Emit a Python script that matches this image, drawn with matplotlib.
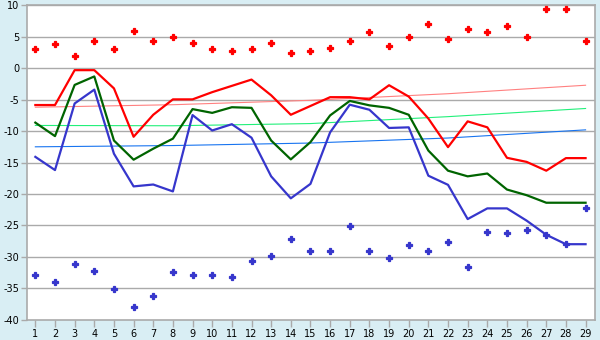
import matplotlib
matplotlib.use("Agg")
import matplotlib.pyplot as plt

plt.rcParams["axes.unicode_minus"] = False

days = list(range(1, 30))

red_line = [-5.85, -5.85, -0.3, -0.3, -3.2, -10.9, -7.4, -4.95, -4.95, -3.8,
            -2.8, -1.8, -4.3, -7.4, -6.0, -4.6, -4.6, -4.95, -2.7, -4.5,
            -8.0, -12.55, -8.45, -9.4, -14.25, -14.9, -16.3, -14.3, -14.3]
green_line = [-8.65, -10.8, -2.65, -1.3, -11.5, -14.55, -12.8, -11.2, -6.5, -7.1,
              -6.2, -6.3, -11.5, -14.5, -11.75, -7.5, -5.2, -5.9, -6.3, -7.4,
              -13.1, -16.3, -17.2, -16.75, -19.3, -20.2, -21.4, -21.4, -21.4]
blue_line = [-14.1, -16.2, -5.6, -3.4, -13.6, -18.8, -18.5, -19.6, -7.45, -9.9,
             -8.9, -11.05, -17.2, -20.7, -18.4, -10.2, -5.8, -6.6, -9.5, -9.4,
             -17.1, -18.55, -24.0, -22.3, -22.3, -24.25, -26.5, -28.0, -28.0]
red_pts = [3.0, 3.9, 1.9, 4.3, 3.1, 6.0, 4.4, 4.9, 4.1, 3.1,
           2.8, 3.0, 4.1, 2.5, 2.8, 3.3, 4.3, 5.7, 3.5, 4.9,
           7.0, 4.7, 6.3, 5.85, 6.8, 5.05, 9.5, 9.5, 4.3]
blue_pts = [-32.9, -34.0, -31.1, -32.3, -35.1, -38.0, -36.25, -32.4, -32.9, -32.9,
            -33.2, -30.7, -29.9, -27.2, -29.1, -29.1, -25.1, -29.1, -30.2, -28.1,
            -29.1, -27.6, -31.6, -26.0, -26.2, -25.7, -26.5, -28.0, -22.2]

# trend lines, read at a few days
trend_x = [1, 8, 15, 22, 29]
red_trend = [-6.2, -5.8, -5.1, -4.05, -2.7]
green_trend = [-9.1, -9.15, -8.8, -7.7, -6.4]
blue_trend = [-12.5, -12.3, -11.9, -11.1, -9.8]

fig = plt.figure(figsize=(6, 3.4), dpi=100, facecolor="#D9EEF4")
ax = fig.add_axes([0.0445, 0.060, 0.9475, 0.924])
ax.set_facecolor("white")

grid_c = "#AAAAAA"
for v in range(-35, 15, 5):
    ax.axhline(v, color=grid_c, lw=1.0, zorder=1)

ax.plot(trend_x, red_trend, color="#FF8080", lw=0.8, zorder=2)
ax.plot(trend_x, green_trend, color="#22F07A", lw=0.8, zorder=2)
ax.plot(trend_x, blue_trend, color="#1874F0", lw=0.8, zorder=2)

ax.plot(days, red_line, color="#FF0000", lw=1.6, zorder=4)
ax.plot(days, green_line, color="#006400", lw=1.6, zorder=3)
ax.plot(days, blue_line, color="#3636CC", lw=1.6, zorder=3)

ax.plot(days, red_pts, ls="none", marker="P", ms=3.8, color="#FF0000",
        mec="#FF0000", mew=0.9, zorder=5)
ax.plot(days, blue_pts, ls="none", marker="P", ms=3.8, color="#3636CC",
        mec="#3636CC", mew=0.9, zorder=5)

ax.set_xlim(0.56, 29.49)
ax.set_ylim(-40, 10)
ax.set_xticks(days)
ax.set_yticks(range(-40, 15, 5))
ax.tick_params(axis="both", labelsize=7, length=4, width=1,
               direction="out", pad=1.5)
ax.tick_params(axis="x", colors=grid_c, labelcolor="black", length=5)
ax.tick_params(axis="y", colors=grid_c, labelcolor="black")
for s in ["left", "bottom", "right", "top"]:
    ax.spines[s].set_color(grid_c)
    ax.spines[s].set_linewidth(1.2)

fig.savefig("out.png", dpi=100, facecolor=fig.get_facecolor())
